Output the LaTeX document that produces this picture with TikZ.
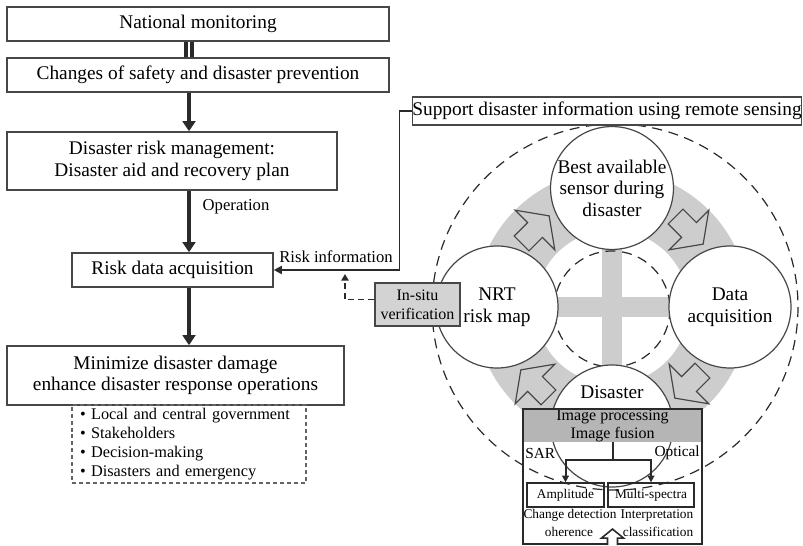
\documentclass[tikz,border=0pt]{standalone}
\usepackage{fontspec}
\setmainfont{Liberation Serif}
\usetikzlibrary{arrows.meta}
\definecolor{ink}{HTML}{2A2A2A}
\definecolor{edge}{HTML}{474747}
\definecolor{ringgray}{HTML}{CDCDCD}
\definecolor{boxgray}{HTML}{D3D3D3}
\definecolor{headgray}{HTML}{B5B5B5}
\tikzset{
  txtmain/.style={font=\fontsize{14.5}{16.2}\selectfont},
  txtsmall/.style={font=\fontsize{12.5}{14.2}\selectfont},
  txtlist/.style={font=\fontsize{12.2}{14.2}\selectfont},
  txtip/.style={font=\fontsize{12}{13.5}\selectfont},
  txttiny/.style={font=\fontsize{10}{12}\selectfont},
  sz/.style 2 args={minimum width=#1, minimum height=#2},
  flowbox/.style={rectangle, draw=edge, line width=1.2pt, fill=white, inner sep=0pt, align=center, txtmain},
  listbox/.style={rectangle, draw=edge!85, line width=1.2pt, dash pattern=on 3pt off 2.2pt,
    inner xsep=6pt, inner ysep=0pt, text width=163.5pt, align=left, txtlist},
  graybox/.style={rectangle, draw=edge, line width=1.2pt, fill=boxgray, inner sep=0pt, align=center,
    font=\fontsize{12}{14.5}\selectfont},
  smallbox/.style={rectangle, draw=ink, line width=1pt, inner sep=0pt, align=center, txttiny},
  stage/.style={circle, draw=edge, line width=0.9pt, fill=white, minimum size=91.5pt, inner sep=0pt,
    align=center, txtmain},
  flow/.style={draw=ink, line width=3pt, -{Triangle[length=7.5pt,width=9.5pt]}},
  twin/.style={draw=ink, line width=3.2pt, double=white, double distance=1.3pt},
  link/.style={draw=ink, line width=1.4pt, -{Triangle[length=6pt,width=6pt]}},
  dashlink/.style={draw=ink, line width=1.4pt, dash pattern=on 4.5pt off 3pt, -{Triangle[length=5pt,width=5.5pt]}},
  tree/.style={draw=ink, line width=1.5pt, -{Triangle[length=5pt,width=5pt]}},
  orbit/.style={draw=ink, line width=0.9pt, dash pattern=on 7.5pt off 5pt},
  cyclearrow/.pic={
    \draw[edge, line width=0.9pt, fill=ringgray, line join=miter]
      (-19,-10.5) -- (0,-10.5) -- (0,-28) -- (20,0) -- (0,28) -- (0,10.5) -- (-19,10.5) -- cycle;
  }
}
\begin{document}
\begin{tikzpicture}[x=0.75pt,y=-0.75pt]
  % canvas
  \fill[white] (0,0) rectangle (803,546);
  \useasboundingbox (0,0) rectangle (803,546);

  % ---------- left column: management flow ----------
  \coordinate (spine) at (189,0);
  \node[flowbox, sz={286.5pt}{25.5pt}] (nat) at (198,24) {National monitoring};
  \node[flowbox, sz={286.5pt}{25.5pt}] (chg) at (198,75) {Changes of safety and disaster prevention};
  \node[flowbox, sz={247.5pt}{43.5pt}] (drm) at (172,161) {Disaster risk management:\\Disaster aid and recovery plan};
  \node[flowbox, sz={150.75pt}{25.5pt}] (rda) at (172.5,270) {Risk data acquisition};
  \node[flowbox, sz={252.75pt}{44.25pt}] (mdd) at (175.5,375.5) {Minimize disaster damage\\enhance disaster response operations};
  \node[listbox, minimum height=58.5pt] (grp) at (189,444)
    {• Local and central government\\• Stakeholders\\• Decision-making\\• Disasters and emergency};

  \draw[twin] (nat.south -| spine) -- (chg.north -| spine);
  \draw[flow] (chg.south -| spine) -- (drm.north -| spine);
  \draw[flow] (drm.south -| spine) -- (rda.north -| spine);
  \draw[flow] (rda.south -| spine) -- (mdd.north -| spine);
  \node[txtsmall, anchor=west] (oplabel) at (198,207) {Operation};

  % ---------- right side: remote sensing cycle ----------
  \draw[orbit] (615,307) circle[radius=183];
  \node[flowbox, sz={291pt}{21pt}] (sup) at (607,111) {Support disaster information using remote sensing};

  % ring, cross and inner circle
  \fill[ringgray, even odd rule] (612,307) circle[radius=137] (612,307) circle[radius=77];
  \fill[ringgray] (556,297) rectangle (670,317);
  \fill[ringgray] (602,246) rectangle (622,370);
  \draw[orbit] (612,309) circle[radius=58];

  % clockwise block arrows on the ring
  \pic[rotate=45]   at (535,230) {cyclearrow};
  \pic[rotate=-45]  at (689,230) {cyclearrow};
  \pic[rotate=-135] at (689,384) {cyclearrow};
  \pic[rotate=135]  at (535,384) {cyclearrow};

  % cycle stages
  \node[stage] (best) at (612,188) {Best available\\sensor during\\disaster};
  \node[stage] (nrt) at (497,307) {NRT\\risk map};
  \node[stage] (acq) at (730,307) {Data\\acquisition};
  \node[stage] (dis) at (612,426) {};
  \node[txtmain] (distxt) at (612,392) {Disaster};

  % feedback to the risk data acquisition
  \draw[link] (sup.west) -- ++(-12,0) |- (rda.east);
  \node[txtsmall] (rilabel) at (336,257) {Risk information};
  \node[graybox, sz={63.75pt}{32.25pt}] (insitu) at (417.5,304.5) {In-situ\\verification};
  \coordinate (tipv) at (345,274);
  \draw[dashlink] ([yshift=3.75pt]insitu.west) -| (tipv);

  % ---------- image processing panel ----------
  \node[rectangle, fill=headgray, inner sep=0pt, sz={134.25pt}{24.75pt}, align=center, txtip] (iphead)
    at (612.5,425.5) {Image processing\\Image fusion};
  \node[rectangle, draw=ink, line width=1.6pt, inner sep=0pt, sz={134.25pt}{101.25pt}] (ipbox) at (612.5,476.5) {};
  \node[font=\fontsize{11.5}{13}\selectfont, anchor=west, inner sep=0pt] (sar) at (525,453) {SAR};
  \node[font=\fontsize{11.5}{13}\selectfont, anchor=east, inner sep=0pt] (opt) at (700,453) {Optical};
  \node[smallbox, sz={57.75pt}{18pt}] (amp) at (565.5,495) {Amplitude};
  \node[smallbox, sz={64.5pt}{18pt}] (ms) at (651,495) {Multi-spectra};
  \draw[tree] (iphead.south) -- ++(0,18) -| (amp.north);
  \draw[tree] (iphead.south) -- ++(0,18) -| (ms.north);
  \node[txttiny, inner sep=0pt] (cd) at (570,515) {Change detection};
  \node[txttiny, inner sep=0pt] (interp) at (657,515) {Interpretation};
  \node[txttiny, inner sep=0pt] (coh) at (569,532) {oherence};
  \node[txttiny, inner sep=0pt] (cls) at (658,532) {classification};
  \draw[draw=ink, line width=1.2pt, fill=white, line join=miter]
    (ipbox.south) ++(-5,0) -- ++(0,-7) -- ++(-6,0) -- ++(11,-9) -- ++(11,9) -- ++(-6,0) -- ++(0,7);
\end{tikzpicture}
\end{document}
